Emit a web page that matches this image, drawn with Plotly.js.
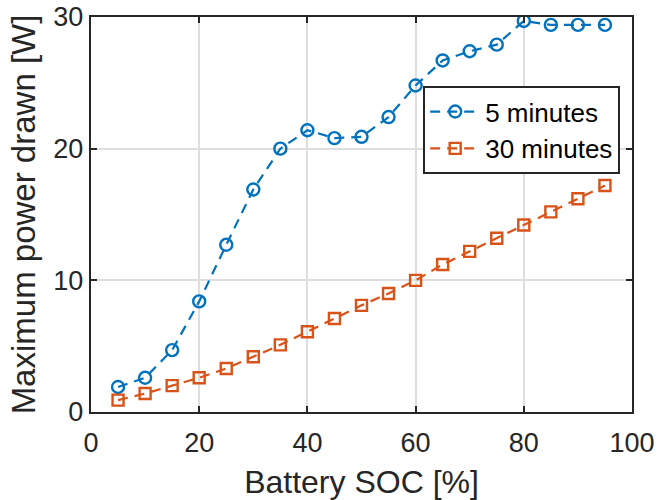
<!DOCTYPE html>
<html><head><meta charset="utf-8">
<script src="https://cdn.plot.ly/plotly-3.0.1.min.js"></script>
<style>html,body{margin:0;padding:0;background:#fff}#c{width:657px;height:500px}</style>
</head><body><div id="c"></div>
<script>
const soc = [5,10,15,20,25,30,35,40,45,50,55,60,65,70,75,80,85,90,95];
const power5 = [1.9,2.6,4.7,8.4,12.7,16.9,20.0,21.4,20.8,20.9,22.4,24.8,26.7,27.4,27.9,29.7,29.4,29.4,29.4];
const power30 = [0.9,1.4,2.0,2.6,3.3,4.2,5.1,6.1,7.1,8.1,9.0,10.0,11.2,12.2,13.2,14.2,15.2,16.2,17.2];
const names = ['5 minutes','30 minutes'];

const traces = [
  {x: soc, y: power5, name: names[0], mode: 'lines+markers', type: 'scatter',
   line: {color: '#0072BD', width: 2.2, dash: '10px,7px'},
   marker: {symbol: 'circle-open', size: 12, color: '#0072BD', line: {width: 2.4}}},
  {x: soc, y: power30, name: names[1], mode: 'lines+markers', type: 'scatter',
   line: {color: '#D95319', width: 2.2, dash: '10px,7px'},
   marker: {symbol: 'square-open', size: 11, color: '#D95319', line: {width: 2.4}}}
];
const FONT = 'Liberation Sans, Arial';
const axisCommon = {
  showline: true, linecolor: '#262626', linewidth: 2.2, mirror: 'ticks',
  ticks: 'inside', ticklen: 6, tickwidth: 2.2, tickcolor: '#262626',
  showgrid: true, gridcolor: '#dedede', gridwidth: 1.8, zeroline: false,
  tickfont: {family: FONT, size: 27, color: '#262626'}
};
const layout = {
  width: 657, height: 500,
  margin: {l: 91, r: 25, t: 17, b: 88},
  paper_bgcolor: '#fff', plot_bgcolor: '#fff',
  showlegend: true,
  xaxis: Object.assign({}, axisCommon, {range: [0,100], tickvals: [0,20,40,60,80,100],
    ticklabelstandoff: 5,
    title: {text: 'Battery SOC [%]', standoff: 18, font: {family: FONT, size: 32, color: '#262626'}}}),
  yaxis: Object.assign({}, axisCommon, {range: [0,30], tickvals: [0,10,20,30],
    title: {text: 'Maximum power drawn [W]', standoff: 8, font: {family: FONT, size: 33, color: '#262626'}}}),
  legend: {xref: 'paper', yref: 'paper', x: 0.614, y: 0.825, xanchor: 'left', yanchor: 'top',
    bgcolor: '#fff', bordercolor: '#262626', borderwidth: 2,
    font: {family: FONT, size: 26, color: '#000'}, tracegroupgap: 0, itemwidth: 50}
};
Plotly.newPlot('c', traces, layout, {displayModeBar: false, staticPlot: true});
</script></body></html>
